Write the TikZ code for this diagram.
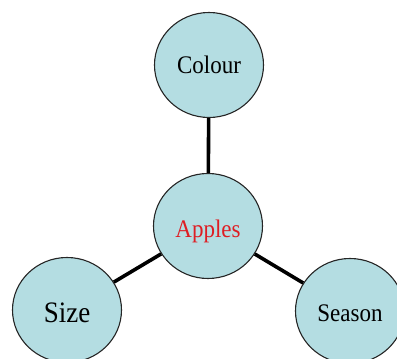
\documentclass[tikz,border=0pt]{standalone}
\usepackage{fontspec}
\setmainfont{Liberation Serif}
\usetikzlibrary{shapes.geometric}
\definecolor{bubble}{RGB}{180,221,226}
\definecolor{applered}{RGB}{222,30,36}
\newcommand{\tallword}[1]{\scalebox{1}[1.1]{#1}}
\tikzset{
  bubblenode/.style={ellipse, draw=black!85, line width=1.1pt, fill=bubble,
    minimum width=109pt, minimum height=105pt, inner sep=0pt, text depth=0pt},
  link/.style={line width=3.6pt, black}
}
\begin{document}
\begin{tikzpicture}[x=1pt,y=1pt]
\useasboundingbox (0,0) rectangle (397,359);
\node[bubblenode, text height=18pt, font=\fontsize{23}{25}\selectfont] (colour) at (209,294) {\tallword{Colour}};
\node[bubblenode, text height=24pt, font=\fontsize{23}{25}\selectfont, text=applered] (apples) at (208,133) {\tallword{Apples}};
\node[bubblenode, text height=26pt, font=\fontsize{27}{29}\selectfont] (size) at (67,49) {\tallword{Size}};
\node[bubblenode, text height=22pt, font=\fontsize{23}{25}\selectfont] (season) at (350,48) {\tallword{Season}};
\draw[link] (colour) -- (apples);
\draw[link] (apples) -- (size);
\draw[link] (apples) -- (season);
\end{tikzpicture}
\end{document}
